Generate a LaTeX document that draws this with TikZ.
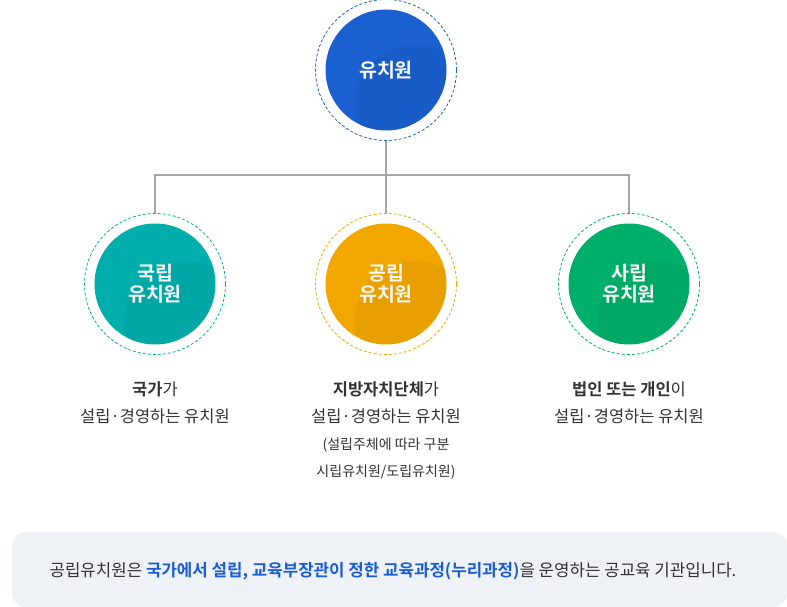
\documentclass[tikz,border=0pt]{standalone}
\usepackage{fontspec}
\setmainfont{Noto Sans CJK KR}
\newfontfamily\kb{Noto Sans CJK KR Bold}
\definecolor{cblue}{HTML}{1B60D0}
\definecolor{cteal}{HTML}{00AEAC}
\definecolor{corange}{HTML}{F2A600}
\definecolor{cgreen}{HTML}{00B06A}
\definecolor{ctxt}{HTML}{333333}
\definecolor{cbox}{HTML}{EEF2F7}
\definecolor{clink}{HTML}{1A5CD6}
\begin{document}
\begin{tikzpicture}[x=1pt,y=-1pt,
  main/.style={circle,minimum size=#1,inner sep=0,text=white,font=\kb\fontsize{19.5}{24}\selectfont,align=center},
  ring/.style={circle,draw=#1,dashed,line width=0.8pt,dash pattern=on 3pt off 2pt,minimum size=141pt,inner sep=0},
  lab/.style={text=ctxt,font=\fontsize{16.5}{27}\selectfont,align=center,anchor=north},
  con/.style={draw=black!35,line width=1.6pt}]
\useasboundingbox (0,0) rectangle (787,607);
\node[ring=cblue] (r0) at (386,70) {};
\node[main=121pt,fill=cblue] (c0) at (386,70) {유치원};
\node[ring=cteal] (r1) at (155,284) {};
\node[main=121pt,fill=cteal] (c1) at (155,284) {국립\\[-3pt]유치원};
\node[ring=corange] (r2) at (386,284) {};
\node[main=121pt,fill=corange] (c2) at (386,284) {공립\\[-3pt]유치원};
\node[ring=cgreen] (r3) at (629,284) {};
\node[main=121pt,fill=cgreen] (c3) at (629,284) {사립\\[-3pt]유치원};
\begin{scope}
\clip (c0) circle (60.5pt); \fill[black,opacity=0.04] (415,105) circle (60pt);
\end{scope}
\foreach \c/\x in {c1/155,c2/386,c3/629}{
\begin{scope}\clip (\c) circle (60.5pt); \fill[black,opacity=0.04] (\x+29,321) circle (60pt);\end{scope}}
\coordinate (j) at (386,175);
\draw[con] (r0.south) -- (j);
\draw[con] (r1.north) |- (j) -| (r3.north);
\draw[con] (j) -- (r2.north);
\node[lab] (t1) at (155,378) {{\kb 국가}가\\설립·경영하는 유치원};
\node[lab] (t2) at (386,378) {{\kb 지방자치단체}가\\설립·경영하는 유치원};
\node[text=ctxt,font=\fontsize{14}{27}\selectfont,align=center,anchor=north] (t2b) at (386,434) {(설립주체에 따라 구분\\시립유치원/도립유치원)};
\node[lab] (t3) at (629,378) {{\kb 법인 또는 개인}이\\설립·경영하는 유치원};
\fill[cbox,rounded corners=14pt] (12,532) rectangle (787,607);
\node[text=ctxt,font=\fontsize{16.8}{20}\selectfont] (bt) at (393,571) {공립유치원은 {\kb\color{clink}국가에서 설립, 교육부장관이 정한 교육과정(누리과정)}을 운영하는 공교육 기관입니다.};
\end{tikzpicture}
\end{document}
